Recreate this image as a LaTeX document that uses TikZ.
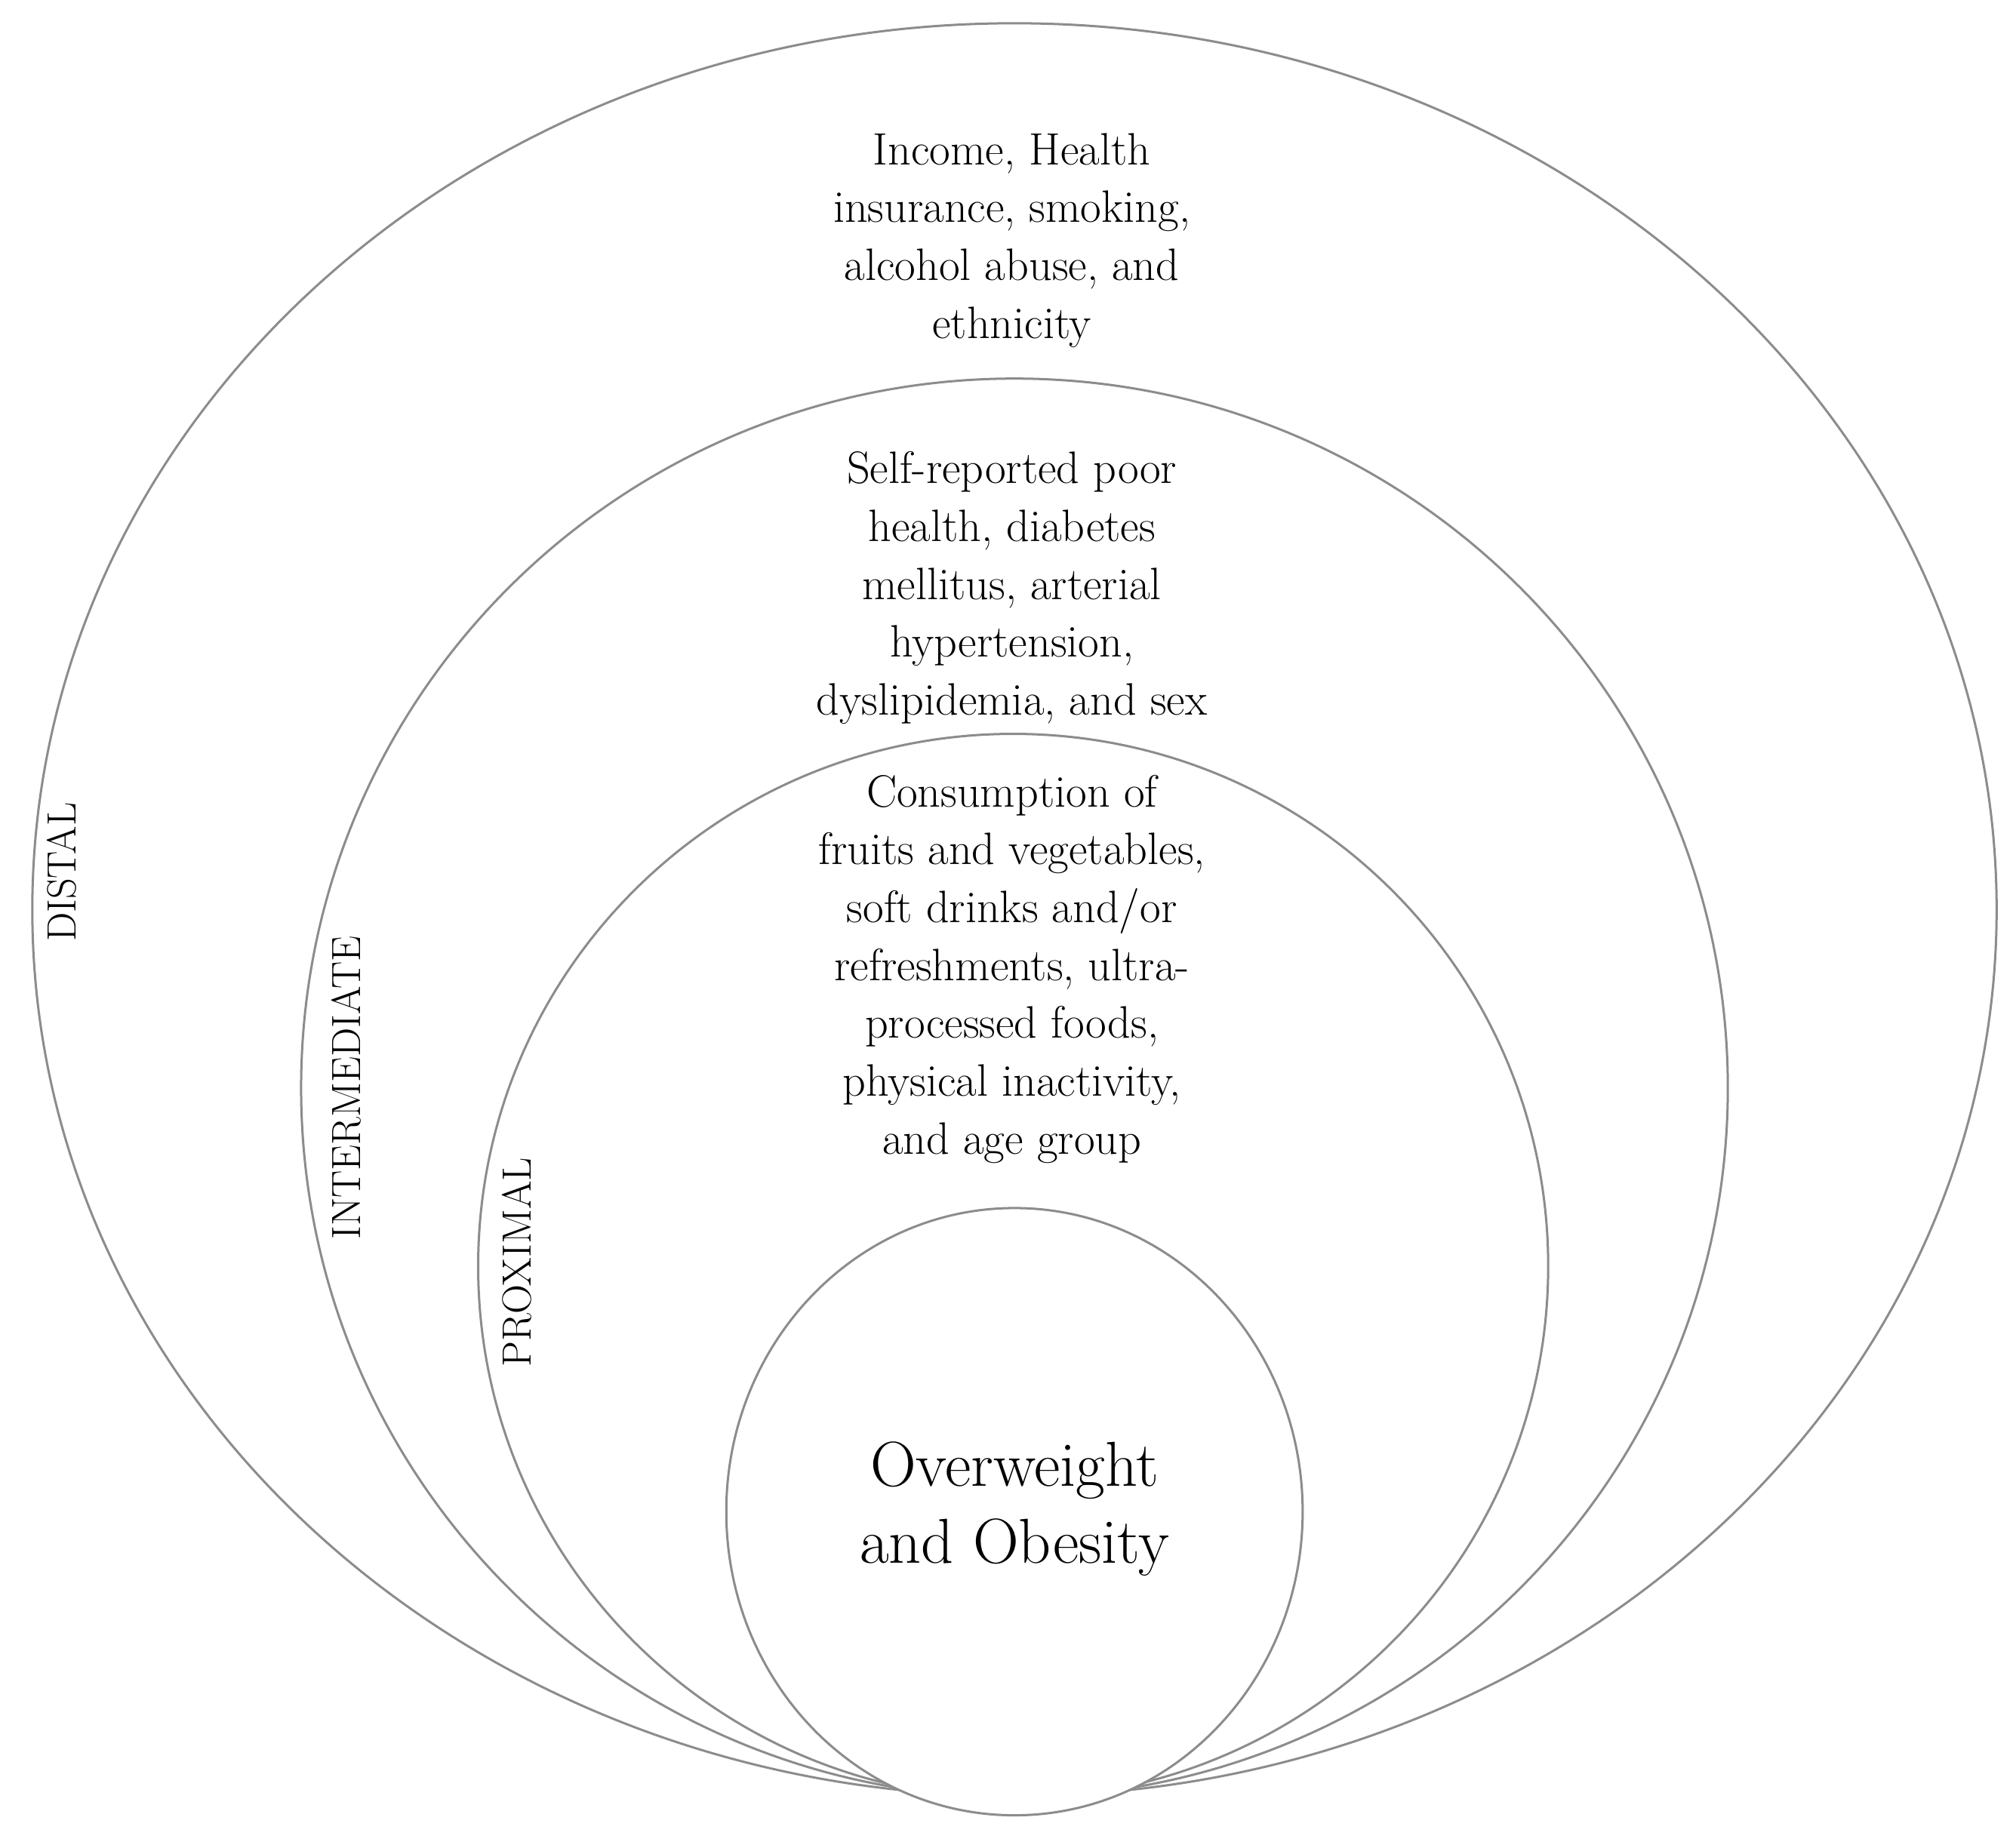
\documentclass[tikz,border=0pt]{standalone}
\begin{document}
\begin{tikzpicture}[x=0.02cm,y=-0.02cm,
  ring/.style={draw=black!45,line width=1pt},
  txt/.style={align=center,font=\fontsize{20}{25.5}\selectfont},
  lab/.style={rotate=90,font=\fontsize{18}{22}\selectfont}]
\useasboundingbox (0,0) rectangle (1560,1428);
\draw[ring] (785,704) ellipse [x radius=760,y radius=686];
\draw[ring] (785,842) ellipse [x radius=552,y radius=549];
\draw[ring] (784,980) ellipse [x radius=414,y radius=412];
\draw[ring,fill=white] (785,1170) ellipse [x radius=223,y radius=235];
\node[txt] (d) at (783,186) {Income, Health\\insurance, smoking,\\alcohol abuse, and\\ethnicity};
\node[txt] (i) at (783,455) {Self-reported poor\\health, diabetes\\mellitus, arterial\\hypertension,\\dyslipidemia, and sex};
\node[txt] (p) at (783,750) {Consumption of\\fruits and vegetables,\\soft drinks and/or\\refreshments, ultra-\\processed foods,\\physical inactivity,\\and age group};
\node[align=center,font=\fontsize{28}{34}\selectfont] (o) at (785,1168) {Overweight\\and Obesity};
\node[lab] (ld) at (48,675) {DISTAL};
\node[lab] (li) at (268,842) {INTERMEDIATE};
\node[lab] (lp) at (400,977) {PROXIMAL};
\end{tikzpicture}
\end{document}
